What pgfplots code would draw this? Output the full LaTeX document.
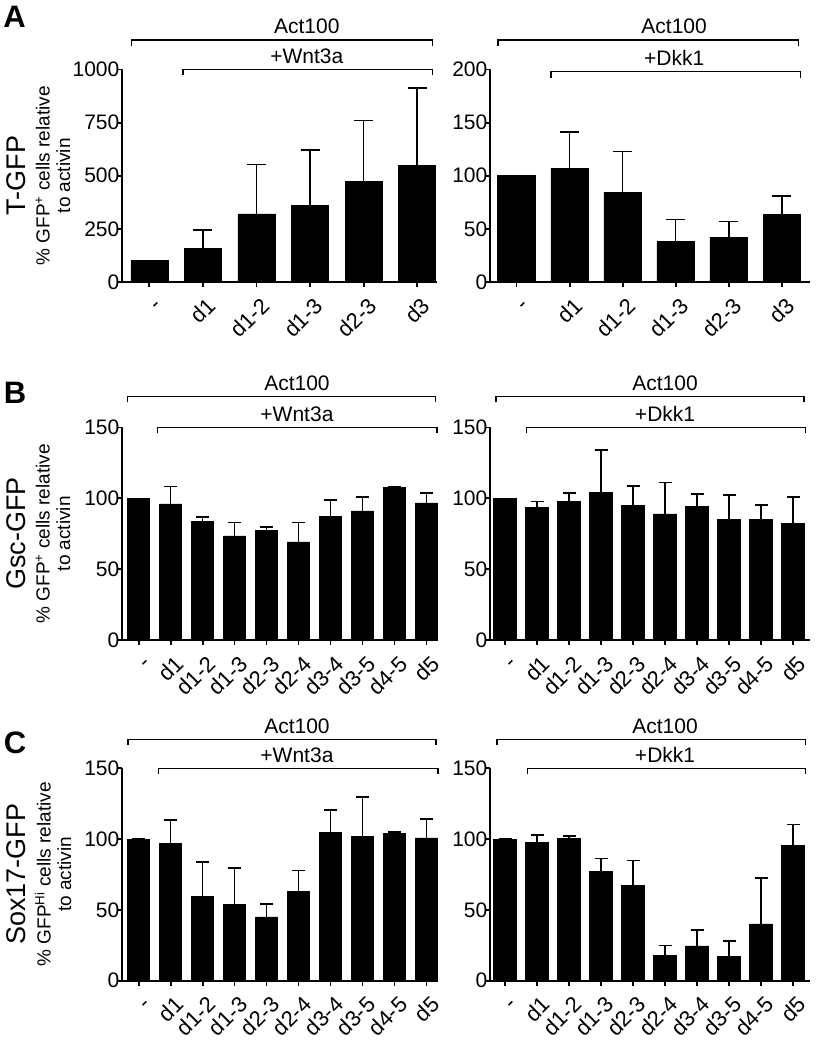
\documentclass[border=0pt]{standalone}
\usepackage{pgfplots}
\pgfplotsset{compat=1.18}
\usepackage{fontspec}
\setmainfont{Liberation Sans}
\newcommand\fs[1]{\fontsize{#1}{#1}\selectfont}
\newcommand\dash{\rule{0pt}{14pt}-}

\pgfplotsset{
 panel/.style={
   scale only axis, height=212.5pt,
   axis x line*=bottom, axis y line*=left,
   axis line style={-, line width=2pt, black},
   every outer x axis line/.append style={-},
   every outer y axis line/.append style={-},
   ymin=0, clip=false, scaled y ticks=false,
   tick align=outside, major tick length=5pt,
   tick style={black, line width=1.8pt},
   /pgf/number format/assume math mode=true,
   /pgf/number format/1000 sep={},
   yticklabel style={font=\fs{21}, inner sep=0.5pt, xshift=3pt},
   xticklabel style={font=\fs{22}, xshift=3pt, yshift=-9pt, rotate=45, anchor=north east, inner sep=0pt},
 },
 six/.style={xtick={0,...,5}, xticklabels={\dash,d1,d1-2,d1-3,d2-3,d3}},
 ten/.style={xtick={0,...,9}, xticklabels={\dash,d1,d1-2,d1-3,d2-3,d2-4,d3-4,d3-5,d4-5,d5}},
 bars/.style={ybar, bar width=#1, fill=black, draw=black, line width=0.5pt},
 eb/.style={error bars/.cd, y dir=plus, y explicit,
   error bar style={line width=1.5pt, black},
   error mark options={rotate=90, line width=1.5pt, mark size=#1, black}},
}
\newcommand\bracket[4]{% x1, x2, y
  \draw[line width=1.2pt] ([yshift=-6pt]axis cs:#1,#3) -- (axis cs:#1,#3) -- (axis cs:#2,#3) -- ([yshift=-6pt]axis cs:#2,#3);
}
\newcommand\btext[3]{\node[anchor=base, font=\fs{21}, inner sep=0pt] at ([yshift=6pt]axis cs:#1,#2) {#3};}
\newcommand\ylabs[2]{%
  \node[rotate=90, font=\fs{27}] at ([xshift=-106pt]axis description cs:0,0.5) {#1};
  \node[rotate=90, font=\fontsize{19}{20.5}\selectfont, align=center] at ([xshift=-69pt]axis description cs:0,0.5) {#2};
}

\begin{document}
\begin{tikzpicture}
\useasboundingbox (0,0) rectangle (820pt,1050pt);

% ---------------- Panel A left
\begin{axis}[panel, six, at={(122pt,768pt)}, anchor=south west, width=315pt,
  xmin=-0.51, xmax=5.37, ymax=1000, ytick={0,250,500,750,1000}]
\addplot[bars=0.69, eb=9.5pt] table[x=x,y=y,y error=e]{
x y e
0 100 0
1 158 86
2 321 233
3 360 260
4 473 288
5 549 365
};
\bracket{-0.33}{5.28}{1139}{}
\bracket{0.63}{5.28}{1000}{}
\btext{2.94}{1139}{Act100}
\btext{2.94}{1000}{+Wnt3a}
\ylabs{T-GFP}{\% GFP\textsuperscript{+} cells relative\\to activin}
\node[font=\bfseries\fs{31}] at ([xshift=-107.5pt,yshift=265.5pt]axis description cs:0,0) {A};
\end{axis}

% ---------------- Panel A right
\begin{axis}[panel, six, at={(490pt,768pt)}, anchor=south west, width=320pt,
  xmin=-0.50, xmax=5.53, ymax=200, ytick={0,50,100,150,200}]
\addplot[bars=0.71, eb=9.5pt] table[x=x,y=y,y error=e]{
x y e
0 100 0
1 107 34
2 84 39
3 38 21
4 42 15
5 63.5 17.5
};
\bracket{-0.35}{5.31}{227.8}{}
\bracket{0.65}{5.35}{197.8}{}
\btext{2.97}{227.8}{Act100}
\btext{2.97}{197.8}{+Dkk1}
\end{axis}

% ---------------- Panel B left
\begin{axis}[panel, ten, at={(122pt,410pt)}, anchor=south west, width=316pt,
  xmin=-0.52, xmax=9.36, ymax=150, ytick={0,50,100,150}]
\addplot[bars=0.69, eb=6.5pt] table[x=x,y=y,y error=e]{
x y e
0 100 0
1 96 12.3
2 83.6 3.3
3 73.5 9.6
4 77.5 2.3
5 69.2 13.9
6 87.4 11.5
7 91.1 9.9
8 107.6 0.5
9 96.8 6.8
};
\bracket{-0.34}{9.29}{171.9}{}
\bracket{0.6}{9.33}{150}{}
\btext{4.95}{171.9}{Act100}
\btext{4.95}{150}{+Wnt3a}
\ylabs{Gsc-GFP}{\% GFP\textsuperscript{+} cells relative\\to activin}
\node[font=\bfseries\fs{31}] at ([xshift=-107pt,yshift=247.5pt]axis description cs:0,0) {B};
\end{axis}

% ---------------- Panel B right
\begin{axis}[panel, ten, at={(490pt,410pt)}, anchor=south west, width=320pt,
  xmin=-0.47, xmax=9.53, ymax=150, ytick={0,50,100,150}]
\addplot[bars=0.72, eb=6.5pt] table[x=x,y=y,y error=e]{
x y e
0 100 0
1 93.6 4
2 97.6 6.3
3 104.2 29.8
4 95 13.6
5 89.1 21.9
6 94.5 8.5
7 84.9 17.6
8 85.4 9.8
9 82.5 18.4
};
\bracket{-0.28}{9.34}{171.9}{}
\bracket{0.66}{9.4}{150}{}
\btext{5.0}{171.9}{Act100}
\btext{5.0}{150}{+Dkk1}
\end{axis}

% ---------------- Panel C left
\begin{axis}[panel, ten, at={(122pt,69.3pt)}, anchor=south west, width=316pt,
  xmin=-0.52, xmax=9.36, ymax=150, ytick={0,50,100,150}]
\addplot[bars=0.69, eb=6.5pt] table[x=x,y=y,y error=e]{
x y e
0 100 0
1 96.8 16.5
2 59.3 24.5
3 53.9 25.7
4 45 9.2
5 63.1 14.6
6 104.5 16.1
7 102 27.5
8 104.1 0.9
9 100.8 13.4
};
\bracket{-0.33}{9.3}{170.5}{}
\bracket{0.63}{9.36}{150}{}
\btext{4.95}{170.5}{Act100}
\btext{4.95}{150}{+Wnt3a}
\ylabs{Sox17-GFP}{\% GFP\textsuperscript{Hi} cells relative\\to activin}
\node[font=\bfseries\fs{31}] at ([xshift=-107pt,yshift=238.2pt]axis description cs:0,0) {C};
\end{axis}

% ---------------- Panel C right
\begin{axis}[panel, ten, at={(490pt,69.3pt)}, anchor=south west, width=320pt,
  xmin=-0.47, xmax=9.53, ymax=150, ytick={0,50,100,150}]
\addplot[bars=0.72, eb=6.5pt] table[x=x,y=y,y error=e]{
x y e
0 100 0
1 97.4 5.6
2 100.7 1.4
3 77.1 9
4 67.5 17.2
5 17.9 6.9
6 24.5 11.3
7 17.2 10.8
8 40.1 32.3
9 95.3 15.1
};
\bracket{-0.25}{9.4}{170.5}{}
\bracket{0.69}{9.4}{150}{}
\btext{5.0}{170.5}{Act100}
\btext{5.0}{150}{+Dkk1}
\end{axis}
\end{tikzpicture}
\end{document}
